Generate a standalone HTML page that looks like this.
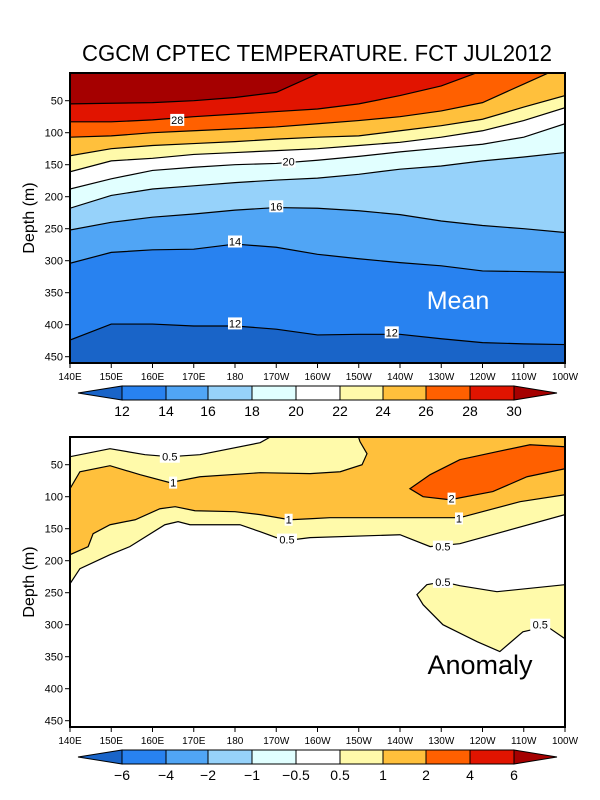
<!DOCTYPE html>
<html><head><meta charset="utf-8"><style>
body{margin:0;background:#fff;}
svg{display:block;font-family:"Liberation Sans",sans-serif;}
</style></head><body>
<svg id="chart" width="600" height="800" viewBox="0 0 600 800" xmlns="http://www.w3.org/2000/svg">
<text x="317" y="61" text-anchor="middle" font-size="23" textLength="470" lengthAdjust="spacingAndGlyphs">CGCM CPTEC TEMPERATURE. FCT JUL2012</text>
<g id="top"></g>
<g id="bot"></g>
</svg>
<script>
// ---- data ----
const lons = [140,150,160,170,180,190,200,210,220,230,240,250,260];
const lonTicks = ["140E","150E","160E","170E","180","170W","160W","150W","140W","130W","120W","110W","100W"];
const depthTicks = [50,100,150,200,250,300,350,400,450];
const meanLevels = [30,28,26,24,22,20,18,16,14,12];
const iso30 = [55,54,53,50,45,37,8,-20,-35,-50,-65,-80,-95];
const iso28 = [83,83,80,75,71,67,63,55,42,27,3,-12,-28];
const iso26 = [107,105,100,97,94,91,86,81,75,66,53,24,-5];
const iso24 = [136,125,120,117,114,110,107,105,97,89,79,60,42];
const iso22 = [161,144,140,134,131,128,125,120,115,107,97,81,61];
const iso20 = [188,172,159,154,150,148,143,137,130,124,118,107,86];
const iso18 = [218,198,188,183,178,174,171,165,157,152,144,138,131];
const iso16 = [252,240,232,227,221,217,218,222,228,238,245,250,256];
const iso14 = [304,287,283,282,274,279,290,297,303,308,316,317,318];
const iso12 = [424,399,399,402,402,407,416,415,415,422,428,430,431];
const meanLabels = [["28",166,80],["20",193,145],["16",190,215],["14",180,270],["12",180,398],["12",218,412]];
// anomaly regions (lon, depth)
const anomYellow = [[140,37.5],[149.7,25],[158.2,34.4],[164.2,37.5],[171.5,34.4],[186.1,15.6],[190.4,0],[260,0],[260,128],[234.5,173.4],[227.3,178],[220,159.4],[198.2,164],[192.1,168.8],[186.1,154.7],[181.2,143.8],[169.1,143.8],[166.2,139],[163,143.8],[154.5,178],[149.7,190.6],[142.4,212.5],[140,236]];
const anomOrange = [[140,87.5],[142.4,61],[149.7,51.6],[157,65.6],[164.2,78],[171.5,68.8],[186.1,62.5],[198.2,64],[205.5,61],[210.8,50],[212,32.8],[210.3,14],[209.6,0],[260,0],[260,97],[249.1,107.8],[234.5,132.8],[220,132.8],[203,132.8],[198.2,134.4],[193.3,136],[186.1,128],[180,123.4],[170.3,121.9],[165.5,115.6],[161.8,118.8],[155.8,136],[149.7,143.8],[145.6,157.8],[144.4,178],[140,190.6]];
const anomRed = [[222.4,87.5],[227.3,65.6],[234.5,42.2],[243.5,29.7],[251.5,18.8],[260,21.9],[260,56.3],[250.8,68.8],[242.5,92],[232.1,104.7],[225.6,100]];
const anomBlob = [[224.1,253],[226.5,237.5],[230.4,233],[234.5,239],[243.5,248.4],[260,237.5],[260,322],[256.4,306],[253.2,306],[249.8,311],[244.2,342],[238.7,326.6],[230.4,300],[225.6,268.8]];
const anomLabels = [["0.5",164.2,37.5],["1",165,78],["1",193,136],["0.5",192.6,167],["2",232.5,103],["1",234.3,134],["0.5",230.4,178],["0.5",230.4,233],["0.5",254,300]];
const barColors = ["#1964c8","#2882f0","#50a5f5","#96d2fa","#e1ffff","#ffffff","#fffaaa","#ffc03c","#ff6000","#e11400","#a50000"];
const meanBarLabels = ["12","14","16","18","20","22","24","26","28","30"];
const anomBarLabels = ["−6","−4","−2","−1","−0.5","0.5","1","2","4","6"];

// ---- drawing ----
const NS = "http://www.w3.org/2000/svg";
const X0 = 70, X1 = 565;
function xs(lon){ return X0 + (lon-140)/120*(X1-X0); }
function mk(tag, parent, attrs){ const e=document.createElementNS(NS,tag); for(const k in attrs) e.setAttribute(k,attrs[k]); parent.appendChild(e); return e; }

function panel(g, top, name){
  const Y0 = top, Y1 = top+290;
  const ys = d => top - 4.3 + d*0.64;
  const defs = mk("defs", g, {});
  const cp = mk("clipPath", defs, {id:"clip-"+name});
  mk("rect", cp, {x:X0, y:Y0, width:X1-X0, height:Y1-Y0});
  const area = mk("g", g, {"clip-path":"url(#clip-"+name+")"});
  
  
  // ticks
  lons.forEach((lon,i)=>{
    const t = mk("line", g, {x1:xs(lon),x2:xs(lon),y1:Y1,y2:Y1+5,stroke:"#000","stroke-width":1});
    
    
    const l = mk("text", g, {x:xs(lon), y:Y1+17, "text-anchor":"middle","font-size":10});
    
    
    l.textContent = lonTicks[i];
  });
  depthTicks.forEach(d=>{
    const t = mk("line", g, {x1:X0-5,x2:X0,y1:ys(d),y2:ys(d),stroke:"#000","stroke-width":1});
    
    
    const l = mk("text", g, {x:X0-7, y:ys(d)+4, "text-anchor":"end","font-size":11});
    
    
    l.textContent = d;
  });
  const yt = mk("text", g, {x:0,y:0,transform:"translate(34,"+(top+145)+") rotate(-90)","text-anchor":"middle","font-size":16});
  
  
  yt.textContent = "Depth (m)";
  return {area, ys, Y0, Y1};
}
function frame(g,Y0,Y1,name){
  const f = mk("rect", g, {x:X0,y:Y0,width:X1-X0,height:Y1-Y0,fill:"none",stroke:"#000","stroke-width":2});
  
  
}
function label(parent, txt, x, y){
  const w = txt.length*6+2;
  const r = mk("rect", parent, {x:x-w/2,y:y-6,width:w,height:12,fill:"#fff"});
  
  
  const t = mk("text", parent, {x:x,y:y+4,"text-anchor":"middle","font-size":11});
  
  
  t.textContent = txt;
}
function colorbar(g, y, labels, name){
  const bx=[122,166,208,252,296,340,383,426,470,514];
  const cb = mk("g", g, {});
  
  
  const tl = mk("polygon", cb, {points:`78,${y+7} ${bx[0]},${y} ${bx[0]},${y+14}`, fill:barColors[0], stroke:"#000","stroke-width":1});
  
  
  for(let i=0;i<9;i++){
    const r = mk("rect", cb, {x:bx[i],y:y,width:bx[i+1]-bx[i],height:14,fill:barColors[i+1],stroke:"#000","stroke-width":1});
    
    
  }
  const tr = mk("polygon", cb, {points:`${bx[9]},${y} 557,${y+7} ${bx[9]},${y+14}`, fill:barColors[10], stroke:"#000","stroke-width":1});
  
  
  labels.forEach((s,i)=>{
    const t = mk("text", cb, {x:bx[i],y:y+30,"text-anchor":"middle","font-size":14});
    
    
    t.textContent = s;
  });
}

// top panel
(function(){
  const g = document.getElementById("top");
  
  
  const P = panel(g, 73, "mean");
  const isos = [iso30,iso28,iso26,iso24,iso22,iso20,iso18,iso16,iso14,iso12];
  const bg = mk("rect", P.area, {x:X0,y:P.Y0,width:X1-X0,height:290,fill:barColors[10]});
  
  
  isos.forEach((arr,k)=>{
    const pts = lons.map((lon,i)=>xs(lon)+","+P.ys(arr[i])).join(" ");
    const poly = mk("polygon", P.area, {points: pts+` ${X1},${P.Y1+10} ${X0},${P.Y1+10}`, fill:barColors[9-k]});
    
    
  });
  isos.forEach((arr,k)=>{
    const pts = lons.map((lon,i)=>xs(lon)+","+P.ys(arr[i])).join(" ");
    const line = mk("polyline", P.area, {points:pts, fill:"none", stroke:"#000","stroke-width":1.2});
    
    
  });
  meanLabels.forEach(l=>label(P.area, l[0], xs(l[1]), P.ys(l[2])));
  const m = mk("text", P.area, {x:458,y:309,"text-anchor":"middle","font-size":25,fill:"#fff"});
  
  
  m.textContent = "Mean";
  frame(g, P.Y0, P.Y1, "mean");
  colorbar(g, 386, meanBarLabels, "mean-colorbar");
})();

// bottom panel
(function(){
  const g = document.getElementById("bot");
  
  
  const P = panel(g, 437, "anomaly");
  const regs = [[anomYellow,barColors[6],"anomaly-0.5-region"],[anomOrange,barColors[7],"anomaly-1-region"],[anomRed,barColors[8],"anomaly-2-region"],[anomBlob,barColors[6],"anomaly-0.5-deep-region"]];
  regs.forEach(r=>{
    const pts = r[0].map(p=>xs(p[0])+","+P.ys(p[1])).join(" ");
    const poly = mk("polygon", P.area, {points:pts, fill:r[1], stroke:"#000","stroke-width":1.2});
    
    
  });
  anomLabels.forEach(l=>label(P.area, l[0], xs(l[1]), P.ys(l[2])));
  const a = mk("text", P.area, {x:480,y:674,"text-anchor":"middle","font-size":27,fill:"#000"});
  
  
  a.textContent = "Anomaly";
  frame(g, P.Y0, P.Y1, "anomaly");
  colorbar(g, 750, anomBarLabels, "anomaly-colorbar");
})();
</script>
</body></html>
